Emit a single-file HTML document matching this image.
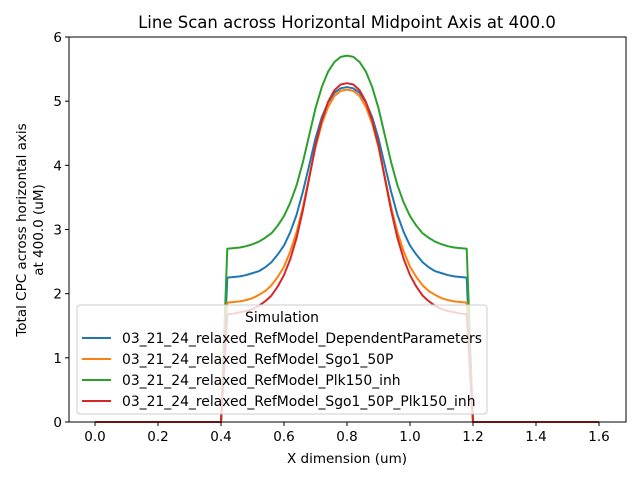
<!DOCTYPE html>
<html><head><meta charset="utf-8"><style>
body{margin:0;background:#fff}
svg text{font-family:"DejaVu Sans","Liberation Sans",sans-serif;fill:#000}
</style></head><body>
<svg id="chart" width="640" height="480" viewBox="0 0 640 480" xmlns="http://www.w3.org/2000/svg">
<rect width="640" height="480" fill="#fff"/>
<text x="347" y="28" font-size="16.5" text-anchor="middle">Line Scan across Horizontal Midpoint Axis at 400.0</text>
<g id="plot"></g>
<g id="axes"></g>
<text x="347" y="463" font-size="13.5" text-anchor="middle">X dimension (um)</text>
<text transform="translate(26,230) rotate(-90)" font-size="13.5" text-anchor="middle"><tspan x="0" dy="0">Total CPC across horizontal axis</tspan><tspan x="0" dy="17">at 400.0 (uM)</tspan></text>
<g id="legend"></g>
</svg>
<script>
const xValues=[0,0.02,0.04,0.06,0.08,0.10,0.12,0.14,0.16,0.18,0.20,0.22,0.24,0.26,0.28,0.30,0.32,0.34,0.36,0.38,0.40,
0.42,0.44,0.46,0.48,0.50,0.52,0.54,0.56,0.58,0.60,0.62,0.64,0.66,0.68,0.70,0.72,0.74,0.76,0.78,0.80,
0.82,0.84,0.86,0.88,0.90,0.92,0.94,0.96,0.98,1.00,1.02,1.04,1.06,1.08,1.10,1.12,1.14,1.16,1.18,
1.20,1.22,1.24,1.26,1.28,1.30,1.32,1.34,1.36,1.38,1.40,1.42,1.44,1.46,1.48,1.50,1.52,1.54,1.56,1.58,1.60];
const Z=[0,0,0,0,0,0,0,0,0,0,0,0,0,0,0,0,0,0,0,0,0];
const blueValues=[...Z,2.25,2.26,2.27,2.29,2.32,2.35,2.41,2.49,2.61,2.75,2.96,3.23,3.59,4.00,4.42,4.75,4.98,5.13,5.20,5.22,
5.20,5.13,4.98,4.75,4.42,4.00,3.59,3.23,2.96,2.75,2.61,2.49,2.41,2.35,2.32,2.29,2.27,2.26,2.25,...Z];
const orangeValues=[...Z,1.86,1.87,1.88,1.90,1.93,1.98,2.04,2.13,2.26,2.42,2.66,2.96,3.35,3.82,4.28,4.65,4.91,5.08,5.16,5.18,
5.16,5.08,4.91,4.65,4.28,3.82,3.35,2.96,2.66,2.42,2.26,2.13,2.04,1.98,1.93,1.90,1.88,1.87,1.86,...Z];
const greenValues=[...Z,2.70,2.71,2.72,2.74,2.77,2.81,2.87,2.94,3.06,3.21,3.42,3.69,4.05,4.47,4.89,5.22,5.46,5.61,5.69,5.71,
5.69,5.61,5.46,5.22,4.89,4.47,4.05,3.69,3.42,3.21,3.06,2.94,2.87,2.81,2.77,2.74,2.72,2.71,2.70,...Z];
const redValues=[...Z,1.68,1.69,1.71,1.73,1.76,1.81,1.88,1.97,2.11,2.29,2.54,2.87,3.30,3.80,4.31,4.70,4.99,5.17,5.26,5.28,
5.26,5.17,4.99,4.70,4.31,3.80,3.30,2.87,2.54,2.29,2.11,1.97,1.88,1.81,1.76,1.73,1.71,1.69,1.68,...Z];
const seriesNames=["03_21_24_relaxed_RefModel_DependentParameters","03_21_24_relaxed_RefModel_Sgo1_50P","03_21_24_relaxed_RefModel_Plk150_inh","03_21_24_relaxed_RefModel_Sgo1_50P_Plk150_inh"];
const xTicks=[0,0.2,0.4,0.6,0.8,1.0,1.2,1.4,1.6];
const xTickLabels=["0.0","0.2","0.4","0.6","0.8","1.0","1.2","1.4","1.6"];
const yTicks=[0,1,2,3,4,5,6];

const NS="http://www.w3.org/2000/svg";
const L=69,R=626,T=37,B=422;
const sx=v=>95+v*315;
const sy=v=>B-(v/6)*(B-T);
function mk(tag,attrs,parent){const e=document.createElementNS(NS,tag);for(const k in attrs)e.setAttribute(k,attrs[k]);parent.appendChild(e);return e;}
const plot=document.getElementById('plot'),axes=document.getElementById('axes'),leg=document.getElementById('legend');
const colors=["#1f77b4","#ff7f0e","#2ca02c","#d62728"];
const series=[blueValues,orangeValues,greenValues,redValues];
const names=["series-dependent-parameters","series-sgo1-50p","series-plk150-inh","series-sgo1-50p-plk150-inh"];
series.forEach((vals,i)=>{
  const p=mk('polyline',{points:xValues.map((x,j)=>sx(x).toFixed(2)+","+sy(vals[j]).toFixed(2)).join(" "),fill:"none",stroke:colors[i],"stroke-width":2,"stroke-linejoin":"round"},plot);
  
  
});
const frame=mk('rect',{x:L,y:T,width:R-L,height:B-T,fill:"none",stroke:"#000","stroke-width":1},axes);


xTicks.forEach((t,i)=>{
  const x=sx(t);
  mk('line',{x1:x,x2:x,y1:B,y2:B+4,stroke:"#000"},axes);
  const tx=mk('text',{x:x,y:B+19,"font-size":"13.5","text-anchor":"middle"},axes);
  tx.textContent=xTickLabels[i];
  
  
});
yTicks.forEach(t=>{
  const y=sy(t);
  mk('line',{x1:L-4,x2:L,y1:y,y2:y,stroke:"#000"},axes);
  const tx=mk('text',{x:L-7,y:y+5,"font-size":"13.5","text-anchor":"end"},axes);
  tx.textContent=String(t);
  
  
});
mk('rect',{x:77,y:305,width:410,height:109,rx:3,fill:"#fff","fill-opacity":0.8,stroke:"#ccc"},leg);
const lt=mk('text',{x:282,y:322,"font-size":"13.9","text-anchor":"middle"},leg);
lt.textContent="Simulation";


seriesNames.forEach((n,i)=>{
  const y=338+i*21;
  const g=mk('g',{},leg);
  
  
  mk('line',{x1:82,x2:111,y1:y,y2:y,stroke:colors[i],"stroke-width":2},g);
  const t=mk('text',{x:122,y:y+5,"font-size":"13.9"},g);
  t.textContent=n;
});
</script>
</body></html>
